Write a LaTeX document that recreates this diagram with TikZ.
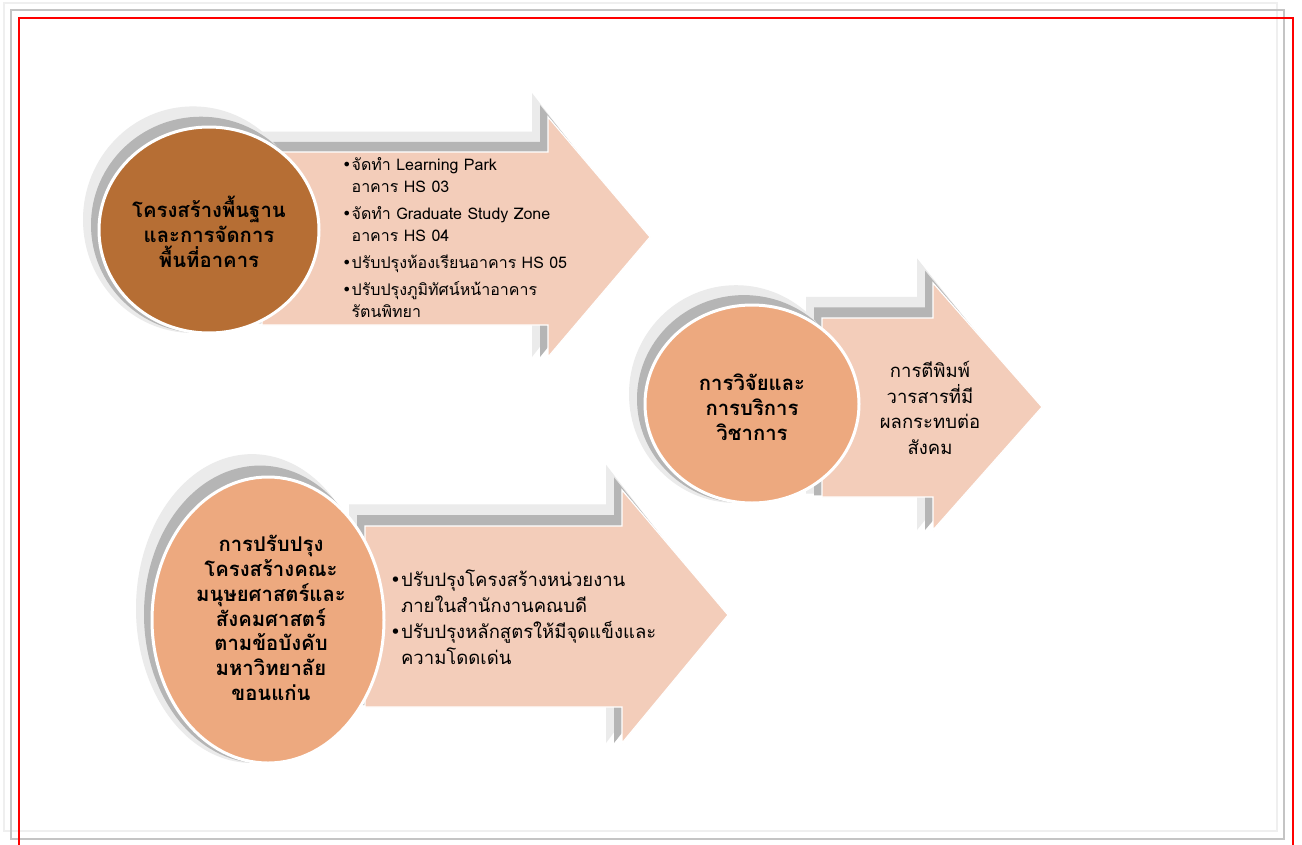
\documentclass[tikz,border=0pt]{standalone}
\usepackage{fontspec}
\newfontfamily\thai[Script=Thai]{Loma}
\newfontfamily\dv{DejaVu Sans}
\usetikzlibrary{shapes.geometric}
\definecolor{pinkA}{HTML}{F3CDBA}
\definecolor{brownC}{HTML}{B66E34}
\definecolor{orangeC}{HTML}{EDA97F}
\definecolor{shL}{HTML}{EBEBEB}
\definecolor{shD}{HTML}{B5B5B5}
\definecolor{frL}{HTML}{EFEFEF}
\definecolor{frD}{HTML}{C4C4C4}
\newcommand\bul{{\dv •}}
\newcommand\shadowed[3]{%
  \begin{scope}[shift={(-16,#1)},yscale=#3,shift={(0,-#1)}]\fill[shL] #2;\end{scope}
  \begin{scope}[shift={(-8,#1)},yscale={1+(#3-1)/2},shift={(0,-#1)}]\fill[shD] #2;\end{scope}}
\def\arrA{(262,152) -- (548,152) -- (548,117) -- (650,237) -- (548,357) -- (548,325) -- (262,325) -- cycle}
\def\arrB{(822,318) -- (933,318) -- (933,283) -- (1042,407) -- (933,530) -- (933,497) -- (822,497) -- cycle}
\def\arrC{(365,526) -- (622,526) -- (622,490) -- (728,615) -- (622,743) -- (622,707) -- (365,707) -- cycle}
\def\cirA{(209,230) ellipse [x radius=110, y radius=103]}
\def\cirB{(752,404) ellipse [x radius=107, y radius=99]}
\def\cirC{(268,620) ellipse [x radius=116, y radius=143]}
\tikzset{
  arrowbody/.style={fill=pinkA, draw=white, line width=1.2pt},
  ringA/.style={ellipse, draw=white, line width=3pt, fill=brownC, inner sep=0pt},
  ringB/.style={ellipse, draw=white, line width=3pt, fill=orangeC, inner sep=0pt},
  circtext/.style={align=center, inner sep=0pt, font=\thai\bfseries\fontsize{20.3}{24.8}\selectfont},
  listtext/.style={align=left, inner sep=0pt, font=\thai\fontsize{16}{22}\selectfont},
  bigtext/.style={align=left, inner sep=0pt, font=\thai\fontsize{18.5}{26}\selectfont},
  midtext/.style={align=center, inner sep=0pt, font=\thai\fontsize{18.5}{25.7}\selectfont},
}
\begin{document}
\begin{tikzpicture}[x=1pt,y=-1pt]
\useasboundingbox (0,0) rectangle (1302,844);
\fill[white] (0,0) rectangle (1302,844);
% frames
\draw[frL, line width=2pt] (4,3) rectangle (1277,831);
\draw[frD, line width=1.5pt] (11,10) rectangle (1284,839);
\draw[red, line width=1.6pt] (19,850) -- (19,18) -- (1293,18) -- (1293,850);
% arrow 1
\shadowed{357}{\arrA}{1.1}
\fill[arrowbody] \arrA;
\shadowed{333}{\cirA}{1.1}
\node[ringA, minimum width=220pt, minimum height=206pt] (c1) at (209,230) {};
\node[circtext] (t1) at (209,232) {โครงสร้างพื้นฐาน\\และการจัดการ\\พื้นที่อาคาร};
\node[listtext, anchor=west] (l1) at (342,238) {\bul จัดทำ Learning Park\\
\phantom{\bul}อาคาร HS 03\\[5pt]
\bul จัดทำ Graduate Study Zone\\
\phantom{\bul}อาคาร HS 04\\[5pt]
\bul ปรับปรุงห้องเรียนอาคาร HS 05\\[5pt]
\bul ปรับปรุงภูมิทัศน์หน้าอาคาร\\
\phantom{\bul}รัตนพิทยา};
% arrow 2
\shadowed{530}{\arrB}{1.1}
\fill[arrowbody] \arrB;
\shadowed{503}{\cirB}{1.1}
\node[ringB, minimum width=214pt, minimum height=198pt] (c2) at (752,404) {};
\node[circtext] (t2) at (752,407) {การวิจัยและ\\การบริการ\\วิชาการ};
\node[midtext] (l2) at (930,408) {การตีพิมพ์\\วารสารที่มี\\ผลกระทบต่อ\\สังคม};
% arrow 3
\shadowed{743}{\arrC}{1.1}
\fill[arrowbody] \arrC;
\shadowed{763}{\cirC}{1.08}
\node[ringB, minimum width=232pt, minimum height=286pt] (c3) at (268,620) {};
\node[circtext] (t3) at (271,618) {การปรับปรุง\\โครงสร้างคณะ\\มนุษยศาสตร์และ\\สังคมศาสตร์\\ตามข้อบังคับ\\มหาวิทยาลัย\\ขอนแก่น};
\node[bigtext, anchor=west] (l3) at (390,617) {\bul ปรับปรุงโครงสร้างหน่วยงาน\\
\phantom{\bul}ภายในสำนักงานคณบดี\\
\bul ปรับปรุงหลักสูตรให้มีจุดแข็งและ\\
\phantom{\bul}ความโดดเด่น};
\end{tikzpicture}
\end{document}
